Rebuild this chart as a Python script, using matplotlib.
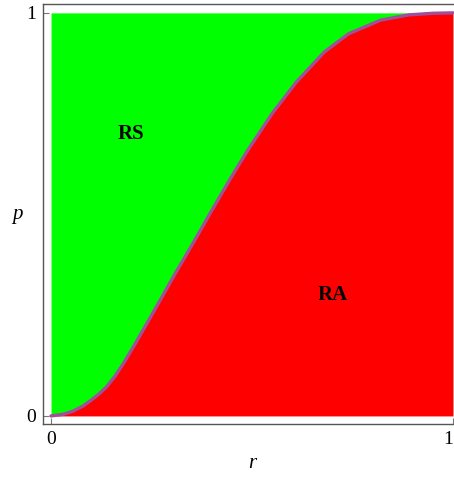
import matplotlib
matplotlib.use("Agg")
import matplotlib.pyplot as plt
import numpy as np

# Boundary curve
r_vals = [0, 0.03, 0.055, 0.08, 0.097, 0.12, 0.139, 0.16, 0.18, 0.21, 0.26, 0.31,
          0.36, 0.40, 0.45, 0.49, 0.55, 0.61, 0.68, 0.74, 0.82, 0.89, 0.95, 1.0]
p_vals = [0, 0.004, 0.012, 0.025, 0.037, 0.055, 0.073, 0.10, 0.13, 0.18, 0.267, 0.355,
          0.44, 0.51, 0.595, 0.66, 0.75, 0.828, 0.903, 0.948, 0.982, 0.995, 0.999, 1.0]
region_labels = ["RS", "RA"]
region_pos = [(0.2, 0.70), (0.7, 0.30)]
xticks = [0, 1]
yticks = [0, 1]

W, H = 454, 479
fig = plt.figure(figsize=(W / 100, H / 100), dpi=100)
left, right, top, bottom = 43, 461, 4, 424
ax = fig.add_axes([left / W, (H - bottom) / H, (right - left) / W, (bottom - top) / H])

r = np.array(r_vals)
p = np.array(p_vals)
ax.fill_between(r, p, 1, color="#00FF00", lw=0)
ax.fill_between(r, 0, p, color="#FF0000", lw=0)
ax.plot(r, p, color="#A0509A", lw=2.4, solid_capstyle="round", solid_joinstyle="round")

ax.set_xlim(-0.02, 1.02)
ax.set_ylim(-0.02, 1.022)

serif = ["Liberation Serif", "DejaVu Serif"]
for (x, y), t in zip(region_pos, region_labels):
    ax.text(x, y, t, ha="center", va="center", fontsize=15, fontweight="bold",
            family=serif, color="black")

ax.set_xticks(xticks)
ax.set_yticks(yticks)
ax.set_xticklabels([str(v) for v in xticks], family=serif, fontsize=14)
ax.set_yticklabels([str(v) for v in yticks], family=serif, fontsize=14)
ax.get_xticklabels()[-1].set_ha("right")
ax.tick_params(direction="in", length=4, width=0.8, color="#777777", pad=5)

for s in ax.spines.values():
    s.set_color("#555555")
    s.set_linewidth(1.0)

ax.set_xlabel("r", family=serif, style="italic", fontsize=15, labelpad=4)
ax.set_ylabel("p", family=serif, style="italic", fontsize=15, rotation=0,
              labelpad=6, va="center")

fig.savefig("out.png", dpi=100)
